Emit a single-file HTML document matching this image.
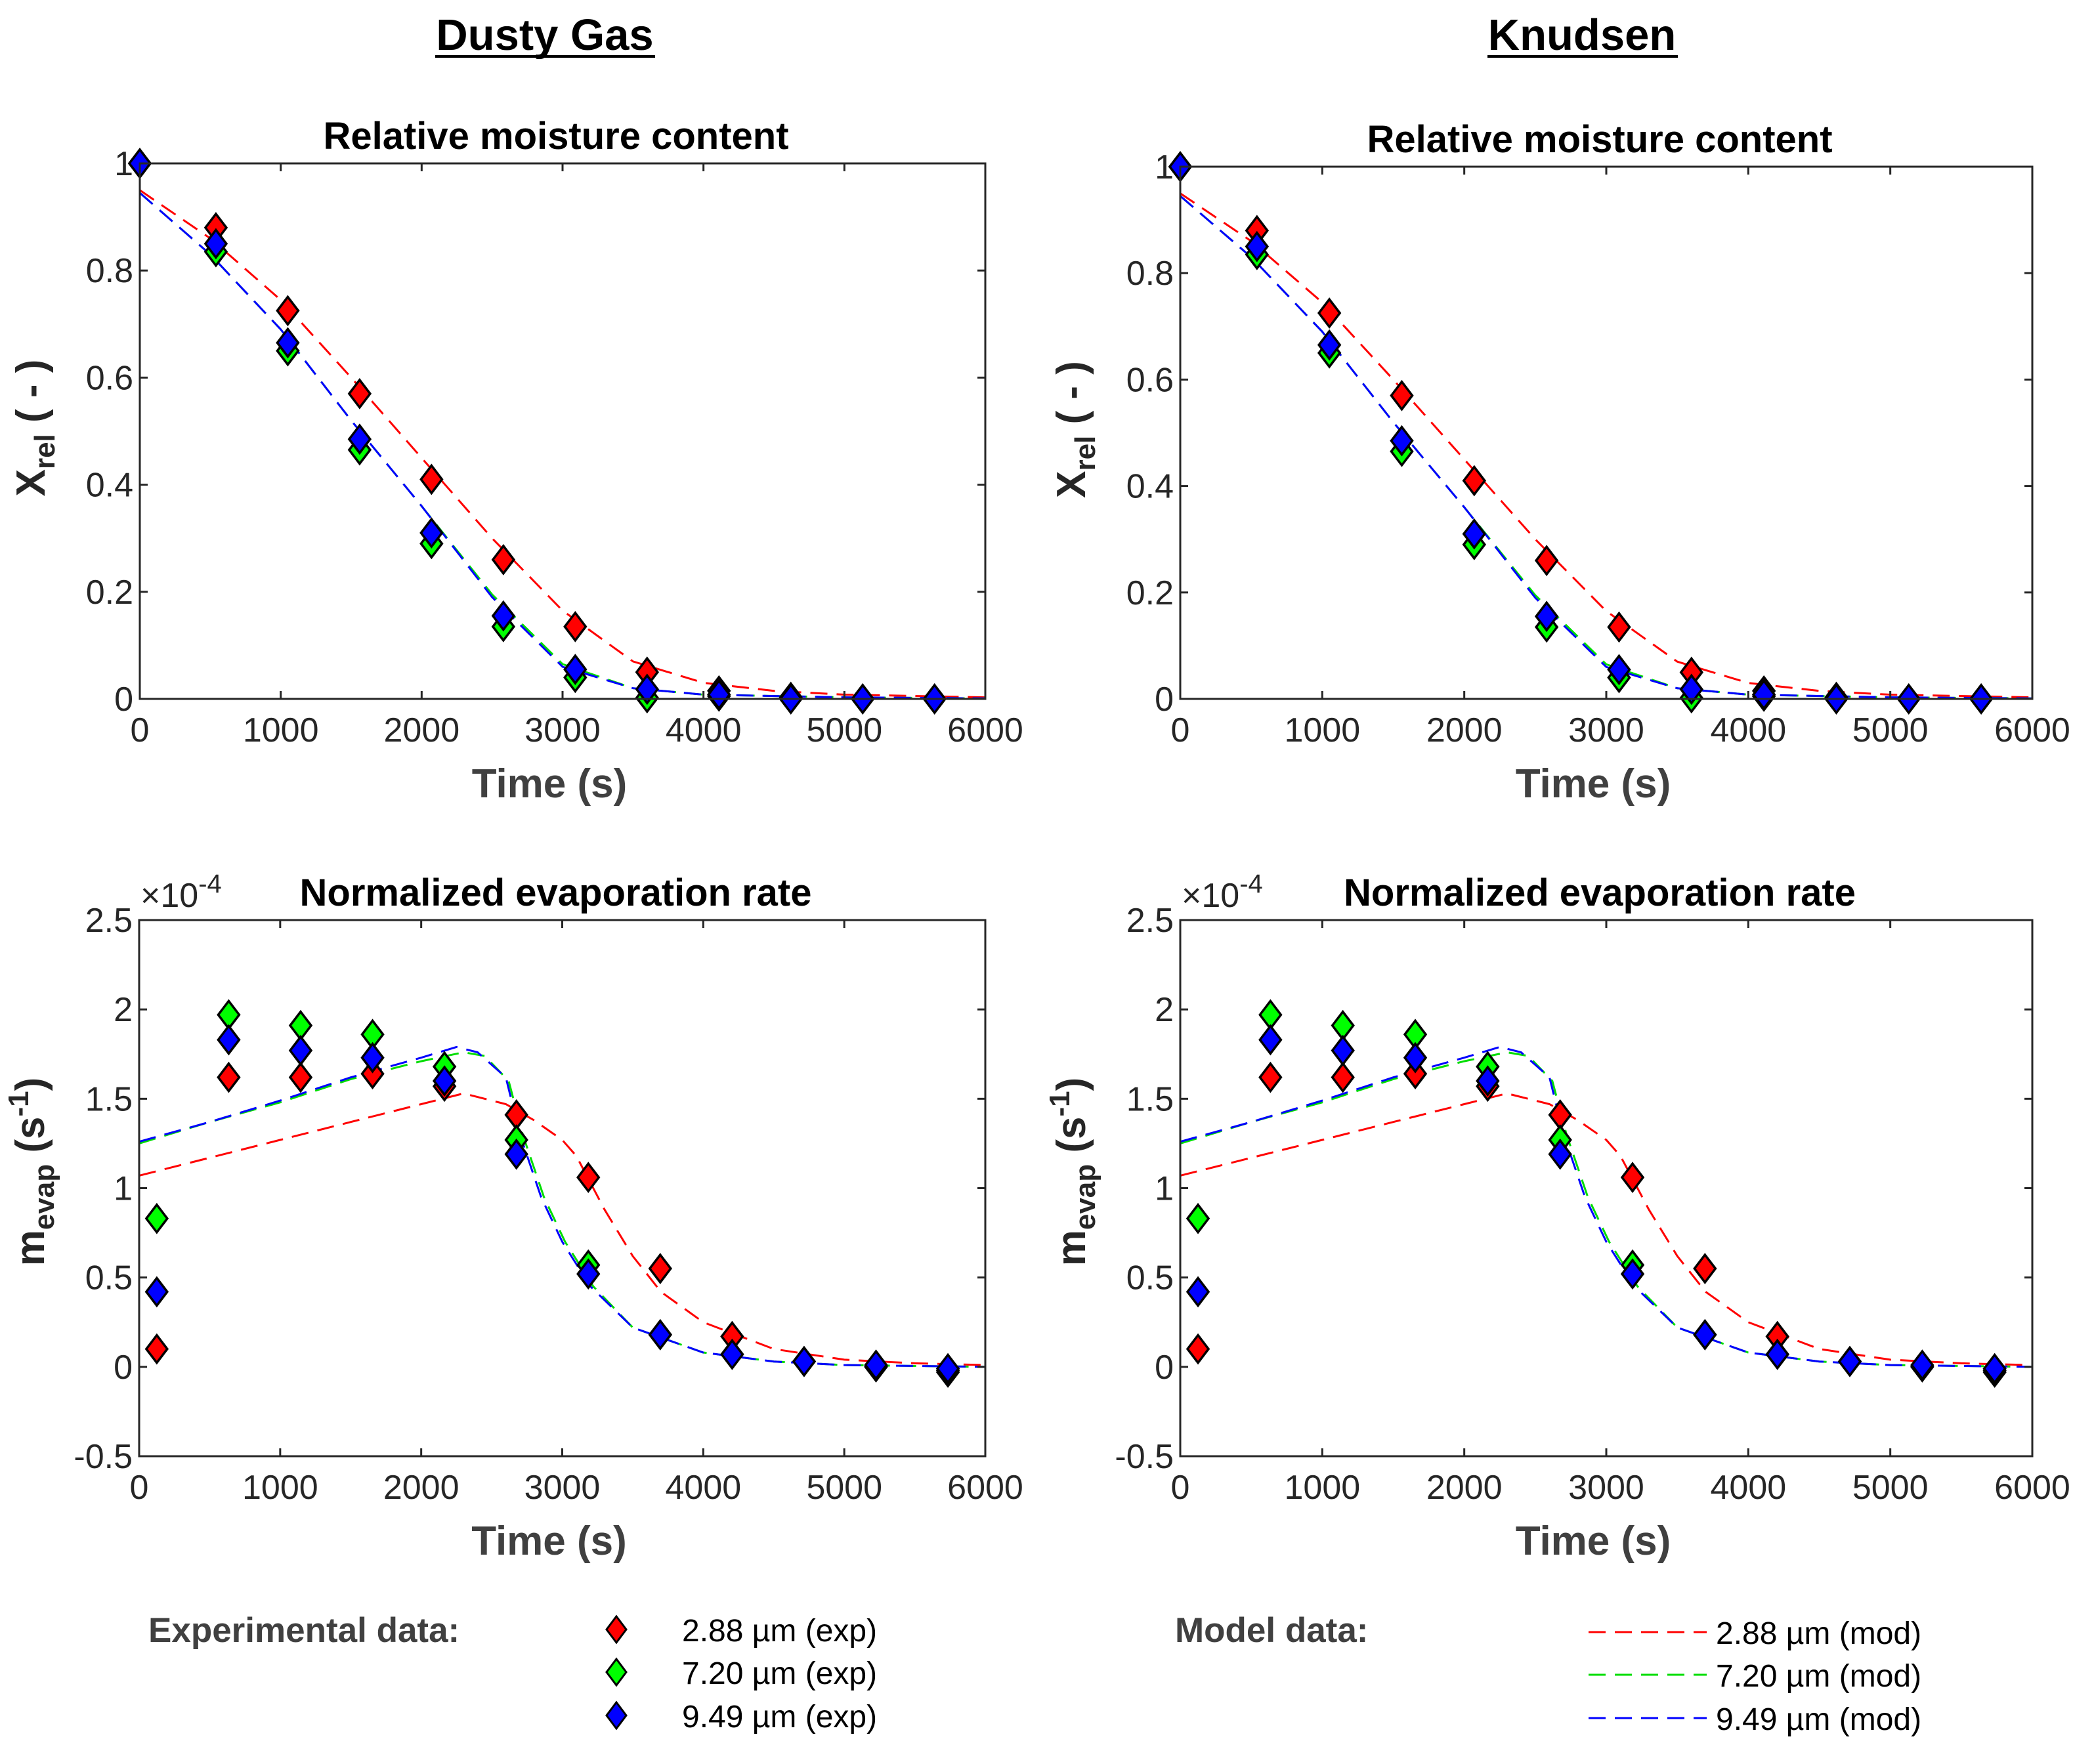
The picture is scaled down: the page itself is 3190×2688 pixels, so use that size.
<!DOCTYPE html>
<html><head><meta charset="utf-8"><style>
html,body{margin:0;padding:0;background:#fff;}
svg{display:block;}
text{font-family:"Liberation Sans",sans-serif;}
</style></head><body>
<svg id="fig" width="3190" height="2688" viewBox="0 0 3190 2688" xmlns="http://www.w3.org/2000/svg">
<rect width="3190" height="2688" fill="#fff"/>
<text x="830" y="76" font-size="67" font-weight="bold" text-anchor="middle" fill="#000">Dusty Gas</text>
<line x1="663" y1="86" x2="998" y2="86" stroke="#000" stroke-width="4"/>
<text x="2410" y="76" font-size="67" font-weight="bold" text-anchor="middle" fill="#000">Knudsen</text>
<line x1="2266" y1="86" x2="2556" y2="86" stroke="#000" stroke-width="4"/>
<g id="plots"></g>
<g transform="translate(0,-12)">
<text x="226" y="2514" font-size="53" font-weight="bold" fill="#404040">Experimental data:</text>
<path d="M939 2475 L954 2495 L939 2515 L924 2495 Z" fill="#ff0000" stroke="#000" stroke-width="3"/>
<path d="M939 2540 L954 2560 L939 2580 L924 2560 Z" fill="#00ff00" stroke="#000" stroke-width="3"/>
<path d="M939 2606 L954 2626 L939 2646 L924 2626 Z" fill="#0000ff" stroke="#000" stroke-width="3"/>
<text x="1039" y="2513" font-size="48" fill="#000">2.88 µm (exp)</text>
<text x="1039" y="2578" font-size="48" fill="#000">7.20 µm (exp)</text>
<text x="1039" y="2644" font-size="48" fill="#000">9.49 µm (exp)</text>
<text x="1790" y="2514" font-size="53" font-weight="bold" fill="#404040">Model data:</text>
<line x1="2420" y1="2499" x2="2600" y2="2499" stroke="#ff0000" stroke-width="3" stroke-dasharray="26,14"/>
<line x1="2420" y1="2564" x2="2600" y2="2564" stroke="#00dd00" stroke-width="3" stroke-dasharray="26,14"/>
<line x1="2420" y1="2630" x2="2600" y2="2630" stroke="#0000ff" stroke-width="3" stroke-dasharray="26,14"/>
<text x="2614" y="2517" font-size="48" fill="#000">2.88 µm (mod)</text>
<text x="2614" y="2582" font-size="48" fill="#000">7.20 µm (mod)</text>
<text x="2614" y="2648" font-size="48" fill="#000">9.49 µm (mod)</text>
</g>
</svg>
<script>
// ---- data ----
const xTicks = [0,1000,2000,3000,4000,5000,6000];
const xrelTicks = [0,0.2,0.4,0.6,0.8,1];
const xrelTickLabels = ["0","0.2","0.4","0.6","0.8","1"];
const mevTicks = [-0.5,0,0.5,1,1.5,2,2.5];
const mevTickLabels = ["-0.5","0","0.5","1","1.5","2","2.5"];

const xrelTimes = [0,540,1050,1560,2070,2580,3090,3600,4110,4620,5130,5640];
const xrelExpRed = [1,0.88,0.725,0.57,0.41,0.26,0.135,0.05,0.015,0.003,0,0];
const xrelExpGreen = [1,0.835,0.65,0.465,0.29,0.135,0.04,0.002,0.005,0,0,0];
const xrelExpBlue = [1,0.85,0.665,0.485,0.31,0.155,0.055,0.018,0.008,0,0,0];

const xrelModRedT = [0,500,1000,1500,2000,2500,3000,3500,4000,4500,5000,6000];
const xrelModRed = [0.95,0.86,0.745,0.6,0.45,0.3,0.165,0.07,0.03,0.015,0.008,0.003];
const xrelModBgT = [0,500,1000,1500,2000,2500,3000,3500,4000,5000,6000];
const xrelModGreen = [0.945,0.83,0.69,0.52,0.36,0.195,0.065,0.02,0.008,0.003,0.001];
const xrelModBlue = [0.945,0.83,0.69,0.52,0.36,0.19,0.06,0.02,0.008,0.003,0.001];

const mevTimes = [125,635,1145,1655,2165,2675,3185,3695,4205,4715,5225,5735];
const mevExpRed = [0.1,1.62,1.62,1.64,1.57,1.41,1.06,0.55,0.17,0.03,0,-0.03];
const mevExpGreen = [0.83,1.97,1.91,1.86,1.68,1.27,0.57,0.18,0.07,0.03,0,-0.02];
const mevExpBlue = [0.42,1.83,1.77,1.73,1.6,1.19,0.52,0.18,0.07,0.03,0.01,-0.01];

const mevModRedT = [0,500,1000,1500,2000,2300,2600,2800,3000,3100,3300,3500,3700,4000,4500,5000,5500,6000];
const mevModRed = [1.07,1.17,1.27,1.37,1.47,1.53,1.47,1.38,1.27,1.18,0.88,0.62,0.42,0.25,0.1,0.04,0.02,0.01];
const mevModBlueT = [0,500,1000,1500,2000,2250,2400,2600,2700,2850,3000,3200,3500,4000,4500,5000,6000];
const mevModBlue = [1.26,1.37,1.49,1.62,1.73,1.79,1.76,1.62,1.3,0.95,0.7,0.45,0.22,0.08,0.03,0.01,0];
const mevModGreenT = [0,500,1000,1500,2000,2300,2450,2620,2720,2870,3020,3220,3500,4000,4500,5000,6000];
const mevModGreen = [1.25,1.37,1.48,1.61,1.71,1.76,1.74,1.6,1.3,0.95,0.7,0.45,0.22,0.08,0.03,0.01,0];

const NS = "http://www.w3.org/2000/svg";
const root = document.getElementById('plots');
function el(tag, attrs, parent){
  const e = document.createElementNS(NS, tag);
  for (const k in attrs) e.setAttribute(k, attrs[k]);
  (parent||root).appendChild(e);
  return e;
}

function drawPanel(id, L, R, T, B, ymin, ymax, yt, ytl, title, ylabel, expS, modS, expT){
  const g = el('g', {});
  
  
  const sx = v => L + (v - 0) / 6000 * (R - L);
  const sy = v => B - (v - ymin) / (ymax - ymin) * (B - T);
  const tt = el('text', {x:(L+R)/2 - 10, y:T-22, 'font-size':58, 'font-weight':'bold', 'text-anchor':'middle', fill:'#000'}, g);
  tt.textContent = title;
  
  
  const cols = ['#ff0000','#00dd00','#0000ff'];
  const lineNames = ['model-line-288','model-line-720','model-line-949'];
  modS.forEach((s, i) => {
    const d = s.t.map((t, j) => (j ? 'L' : 'M') + sx(t).toFixed(1) + ' ' + sy(s.v[j]).toFixed(1)).join(' ');
    const p = el('path', {d:d, fill:'none', stroke:cols[i], 'stroke-width':3, 'stroke-dasharray':'26,14'}, g);
    
    
  });
  const fills = ['#ff0000','#00ff00','#0000ff'];
  const mNames = ['exp-marker-288','exp-marker-720','exp-marker-949'];
  expS.forEach((vals, i) => {
    vals.forEach((v, j) => {
      const cx = sx(expT[j]), cy = sy(v);
      const m = el('path', {d:`M${cx} ${cy-21} L${cx+16} ${cy} L${cx} ${cy+21} L${cx-16} ${cy} Z`, fill:fills[i], stroke:'#000', 'stroke-width':3.5}, g);
      
      
    });
  });
  const bx = el('rect', {x:L, y:T, width:R-L, height:B-T, fill:'none', stroke:'#262626', 'stroke-width':3}, g);
  
  
  xTicks.forEach(v => {
    const x = sx(v);
    el('line', {x1:x, y1:B, x2:x, y2:B-12, stroke:'#262626', 'stroke-width':3}, g);
    el('line', {x1:x, y1:T, x2:x, y2:T+12, stroke:'#262626', 'stroke-width':3}, g);
    const t = el('text', {x:x, y:B+65, 'font-size':52, 'text-anchor':'middle', fill:'#262626'}, g);
    t.textContent = String(v);
    
    
  });
  yt.forEach((v, i) => {
    const y = sy(v);
    el('line', {x1:L, y1:y, x2:L+12, y2:y, stroke:'#262626', 'stroke-width':3}, g);
    el('line', {x1:R, y1:y, x2:R-12, y2:y, stroke:'#262626', 'stroke-width':3}, g);
    const t = el('text', {x:L-10, y:y+18, 'font-size':52, 'text-anchor':'end', fill:'#262626'}, g);
    t.textContent = ytl[i];
    
    
  });
  const xl = el('text', {x:(L+R)/2 - 20, y:B+150, 'font-size':62, 'font-weight':'bold', 'text-anchor':'middle', fill:'#404040'}, g);
  xl.textContent = 'Time (s)';
  
  
  const cy = (T+B)/2 - (ylabel === 'm' ? 25 : 5);
  const yl = el('text', {transform:`translate(${L-145},${cy}) rotate(-90)`, 'font-size':62, 'font-weight':'bold', 'text-anchor':'middle', fill:'#262626'}, g);
  
  
  if (ylabel === 'x') {
    yl.innerHTML = 'X<tspan font-size="44" dy="15">rel</tspan><tspan dy="-15"> ( - )</tspan>';
  } else {
    yl.innerHTML = 'm<tspan font-size="44" dy="15">evap</tspan><tspan dy="-15"> (s</tspan><tspan font-size="44" dy="-24">-1</tspan><tspan dy="24">)</tspan>';
  }
  if (ylabel === 'm') {
    const ex = el('text', {x:L+2, y:T-20, 'font-size':52, fill:'#262626'}, g);
    ex.innerHTML = '×10<tspan font-size="40" dy="-22">-4</tspan>';
    
    
  }
}

const topExp = [xrelExpRed, xrelExpGreen, xrelExpBlue];
const topMod = [{t:xrelModRedT, v:xrelModRed},{t:xrelModBgT, v:xrelModGreen},{t:xrelModBgT, v:xrelModBlue}];
const botExp = [mevExpRed, mevExpGreen, mevExpBlue];
const botMod = [{t:mevModRedT, v:mevModRed},{t:mevModGreenT, v:mevModGreen},{t:mevModBlueT, v:mevModBlue}];

drawPanel('dusty-gas-moisture-plot', 213, 1501, 249, 1065, 0, 1, xrelTicks, xrelTickLabels, 'Relative moisture content', 'x', topExp, topMod, xrelTimes);
drawPanel('knudsen-moisture-plot', 1798, 3096, 254, 1065, 0, 1, xrelTicks, xrelTickLabels, 'Relative moisture content', 'x', topExp, topMod, xrelTimes);
drawPanel('dusty-gas-evaporation-plot', 212, 1501, 1402, 2219, -0.5, 2.5, mevTicks, mevTickLabels, 'Normalized evaporation rate', 'm', botExp, botMod, mevTimes);
drawPanel('knudsen-evaporation-plot', 1798, 3096, 1402, 2219, -0.5, 2.5, mevTicks, mevTickLabels, 'Normalized evaporation rate', 'm', botExp, botMod, mevTimes);
</script>
</body></html>
